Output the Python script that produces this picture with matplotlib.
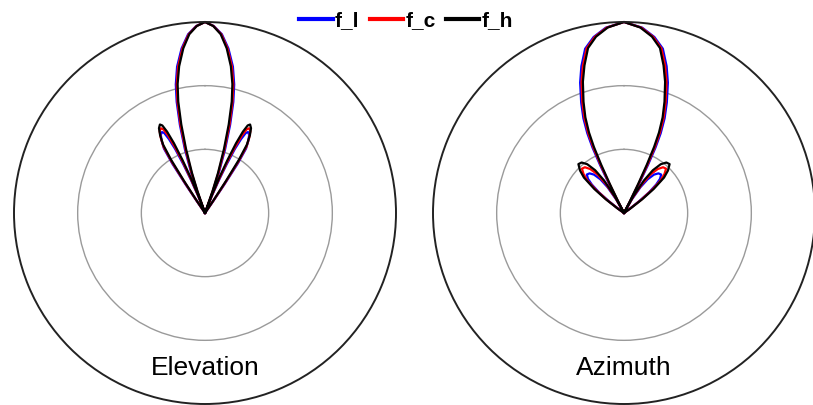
import numpy as np
import matplotlib
matplotlib.use("Agg")
import matplotlib.pyplot as plt

W, H = 813, 405

SERIES = ["f_l", "f_c", "f_h"]
COLORS = {"f_l": "#0000ff", "f_c": "#ff0000", "f_h": "#000000"}

# half patterns (angle from boresight in degrees, normalised linear amplitude)
EL_THETA_H = [0, 2.5, 5, 7.5, 10, 12, 13.5, 15, 16.5, 18, 19, 20, 21, 22, 23, 24, 25, 26, 27, 28.5, 30, 31.5, 32.5, 33.2, 33.8, 34.2]
EL_R_H = [1.0, 0.98, 0.94, 0.87, 0.78, 0.69, 0.60, 0.48, 0.35, 0.22, 0.12, 0, 0.10, 0.20, 0.30, 0.40, 0.47, 0.51, 0.52, 0.505, 0.47, 0.42, 0.33, 0.20, 0.08, 0]
EL_THETA_C = [0, 2.6, 5.2, 7.8, 10.4, 12.4, 13.9, 15.5, 17.0, 18.5, 19.5, 20.5, 21.5, 22.5, 23.5, 24.5, 25.5, 26.5, 27.5, 29, 30.5, 32, 33, 33.7, 34.3, 34.7]
EL_R_C = [1.0, 0.98, 0.94, 0.87, 0.78, 0.69, 0.60, 0.48, 0.35, 0.22, 0.12, 0, 0.10, 0.19, 0.29, 0.38, 0.45, 0.49, 0.50, 0.49, 0.455, 0.41, 0.32, 0.19, 0.08, 0]
EL_THETA_L = [0, 2.7, 5.4, 8.1, 10.8, 12.8, 14.3, 15.9, 17.5, 19.0, 20.0, 21.0, 22.0, 23.0, 24.0, 25.0, 26.0, 27.0, 28.0, 29.5, 31.0, 32.5, 33.5, 34.2, 34.8, 35.2]
EL_R_L = [1.0, 0.98, 0.94, 0.87, 0.78, 0.69, 0.60, 0.48, 0.35, 0.22, 0.12, 0, 0.10, 0.19, 0.28, 0.37, 0.43, 0.47, 0.48, 0.47, 0.44, 0.40, 0.31, 0.18, 0.07, 0]

AZ_THETA_H = [0, 5, 9, 12.3, 15, 17.4, 20, 22, 23.5, 24.5, 25.3, 26, 26.6, 27, 29, 31.5, 34, 37, 40, 43, 46, 48.5, 51, 53, 55, 56]
AZ_R_H = [1.0, 0.975, 0.935, 0.884, 0.80, 0.72, 0.62, 0.54, 0.46, 0.38, 0.28, 0.17, 0.07, 0, 0.10, 0.20, 0.27, 0.32, 0.345, 0.35, 0.32, 0.28, 0.20, 0.12, 0.04, 0]
AZ_THETA_C = [0, 5.3, 9.4, 12.8, 15.6, 18.0, 20.6, 22.6, 24.1, 25.1, 25.9, 26.6, 27.2, 27.6, 29.5, 32, 34.5, 37.5, 40.5, 43.5, 46, 48.5, 50.5, 52.5, 54, 55]
AZ_R_C = [1.0, 0.975, 0.935, 0.884, 0.80, 0.72, 0.62, 0.54, 0.46, 0.38, 0.28, 0.17, 0.07, 0, 0.09, 0.18, 0.245, 0.29, 0.315, 0.32, 0.295, 0.255, 0.19, 0.11, 0.04, 0]
AZ_THETA_L = [0, 5.6, 9.8, 13.3, 16.2, 18.6, 21.2, 23.2, 24.7, 25.7, 26.5, 27.2, 27.8, 28.2, 30, 32.5, 35, 38, 41, 44, 46.5, 48.5, 50.5, 52, 53.5, 54.5]
AZ_R_L = [1.0, 0.975, 0.935, 0.884, 0.80, 0.72, 0.62, 0.54, 0.46, 0.38, 0.28, 0.17, 0.07, 0, 0.08, 0.16, 0.215, 0.255, 0.275, 0.28, 0.26, 0.225, 0.17, 0.10, 0.04, 0]

PANELS = [
    ("Elevation", 205, {"f_l": (EL_THETA_L, EL_R_L), "f_c": (EL_THETA_C, EL_R_C), "f_h": (EL_THETA_H, EL_R_H)}),
    ("Azimuth", 624, {"f_l": (AZ_THETA_L, AZ_R_L), "f_c": (AZ_THETA_C, AZ_R_C), "f_h": (AZ_THETA_H, AZ_R_H)}),
]

RAD = 191   # circle radius in px
CY = 213    # circle centre from top in px

plt.rcParams["font.family"] = ["Liberation Sans", "DejaVu Sans"]
fig = plt.figure(figsize=(W / 100, H / 100), dpi=100)

handles = []
for title, cx, data in PANELS:
    ax = fig.add_axes([(cx - RAD) / W, (H - CY - RAD) / H, 2 * RAD / W, 2 * RAD / H], projection="polar")
    ax.set_theta_zero_location("N")
    ax.set_theta_direction(-1)
    for name in SERIES:
        th, r = data[name]
        th = np.asarray(th, dtype=float)
        r = np.asarray(r, dtype=float)
        # pattern is symmetric about boresight: draw both halves
        full_th = np.concatenate([-th[::-1], th[1:]])
        full_r = np.concatenate([r[::-1], r[1:]])
        ln, = ax.plot(np.radians(full_th), full_r, color=COLORS[name], lw=1.6,
                      clip_on=False, solid_joinstyle="round", label=name)
        if title == "Elevation":
            handles.append(ln)
    ax.set_ylim(0, 1)
    ax.set_rticks([1 / 3, 2 / 3])
    ax.set_yticklabels([])
    ax.set_xticks([])
    ax.grid(True, color="#9a9a9a", lw=1.0)
    ax.spines["polar"].set_color("#222222")
    ax.spines["polar"].set_linewidth(1.4)
    fig.text(cx / W, 1 - 375 / H, title, ha="center", va="baseline", fontsize=19)

leg = fig.legend(handles=handles, loc="center", bbox_to_anchor=(406 / W, 1 - 21 / H), ncol=3,
                 frameon=False, handlelength=1.6, handletextpad=0.1, columnspacing=0.5,
                 prop={"weight": "bold", "size": 15})
for lh in leg.get_lines():
    lh.set_linewidth(3)

plt.savefig("out.png", dpi=100)
